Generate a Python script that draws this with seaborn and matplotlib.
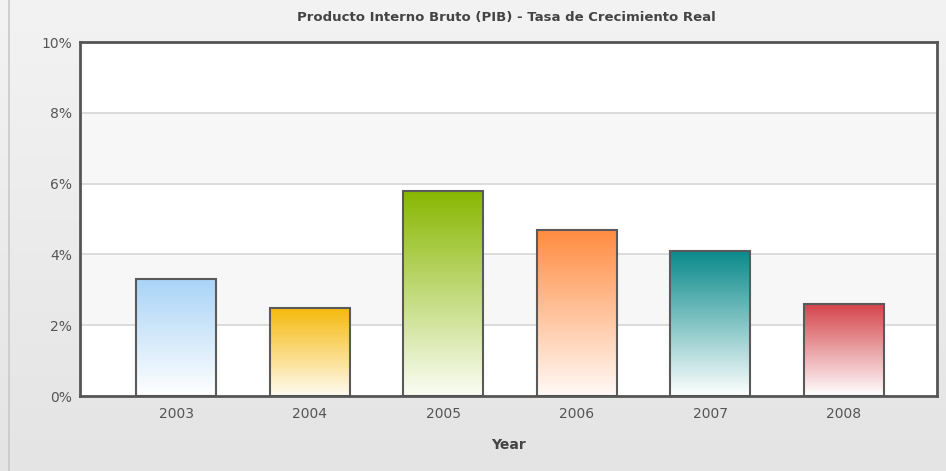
import numpy as np
import pandas as pd
import matplotlib
matplotlib.use('Agg')
import matplotlib.pyplot as plt
import seaborn as sns
from matplotlib.colors import LinearSegmentedColormap
from matplotlib.ticker import FuncFormatter

# ── Data ─────────────────────────────────────────────────────
years = ['2003', '2004', '2005', '2006', '2007', '2008']
growth = [3.3, 2.5, 5.8, 4.7, 4.1, 2.6]
top_colors = ['#aad4f7', '#f5b90a', '#88b700', '#ff8b40', '#08898a', '#d4434a']
bottom_colors = ['#ffffff', '#fffbf2', '#fbfdf5', '#fffaf7', '#ffffff', '#ffffff']

df = pd.DataFrame({'Year': years, 'Growth': growth})

# ── Style ────────────────────────────────────────────────────
sns.set_style('white')
plt.rcParams['font.family'] = ['DejaVu Sans']

fig = plt.figure(figsize=(9.46, 4.71), dpi=100)

# figure background gradient (lighter at top)
bg = fig.add_axes([0, 0, 1, 1], zorder=-10)
grad = np.linspace(0, 1, 256).reshape(-1, 1)
bg_cmap = LinearSegmentedColormap.from_list('bg', ['#e4e4e4', '#f3f3f3'])
bg.imshow(grad, aspect='auto', cmap=bg_cmap, origin='lower', extent=[0, 1, 0, 1])
bg.axvline(0.009, color='#c9c9c9', lw=1.2)
bg.set_xlim(0, 1)
bg.set_ylim(0, 1)
bg.axis('off')

ax = fig.add_axes([0.0846, 0.1592, 0.9059, 0.7516])
ax.set_facecolor('white')

# alternating bands
for lo in range(0, 10, 2):
    ax.axhspan(lo, lo + 2, color='white' if (lo // 2) % 2 == 0 else '#f7f7f7', zorder=0, lw=0)
for yv in range(2, 10, 2):
    ax.axhline(yv, color='#d6d6d6', lw=1.2, zorder=0.5)

sns.barplot(data=df, x='Year', y='Growth', ax=ax, width=0.6,
            color='white', edgecolor='#5a5a5a', linewidth=1.5, zorder=3)

# gradient fill inside each bar
bars = ax.containers[0]
for patch, c_top, c_bot in zip(bars, top_colors, bottom_colors):
    patch.set_facecolor('none')
    x0, y0 = patch.get_x(), patch.get_y()
    w, h = patch.get_width(), patch.get_height()
    cmap = LinearSegmentedColormap.from_list('g', [c_bot, c_top])
    im = ax.imshow(grad, aspect='auto', cmap=cmap, origin='lower',
                   extent=[x0, x0 + w, y0, y0 + h], zorder=2)
    im.set_clip_path(patch)

ax.set_xlim(-0.72, 5.70)
ax.set_ylim(0, 10)
ax.set_yticks(range(0, 11, 2))
ax.yaxis.set_major_formatter(FuncFormatter(lambda v, p: f'{int(v)}%'))
ax.tick_params(axis='both', length=0, colors='#555555', labelsize=10)
ax.tick_params(axis='x', pad=8)
ax.tick_params(axis='y', pad=6)

for s in ax.spines.values():
    s.set_visible(True)
    s.set_color('#555555')
    s.set_linewidth(2)
    s.set_zorder(5)

ax.set_xlabel('Year', fontsize=10, fontweight='bold', color='#444444', labelpad=12)
ax.set_ylabel('')
fig.text(0.535, 0.963, 'Producto Interno Bruto (PIB) - Tasa de Crecimiento Real',
         ha='center', va='center', fontsize=9.5, fontweight='bold', color='#444444')

fig.savefig('out.png', dpi=100)
plt.close(fig)
